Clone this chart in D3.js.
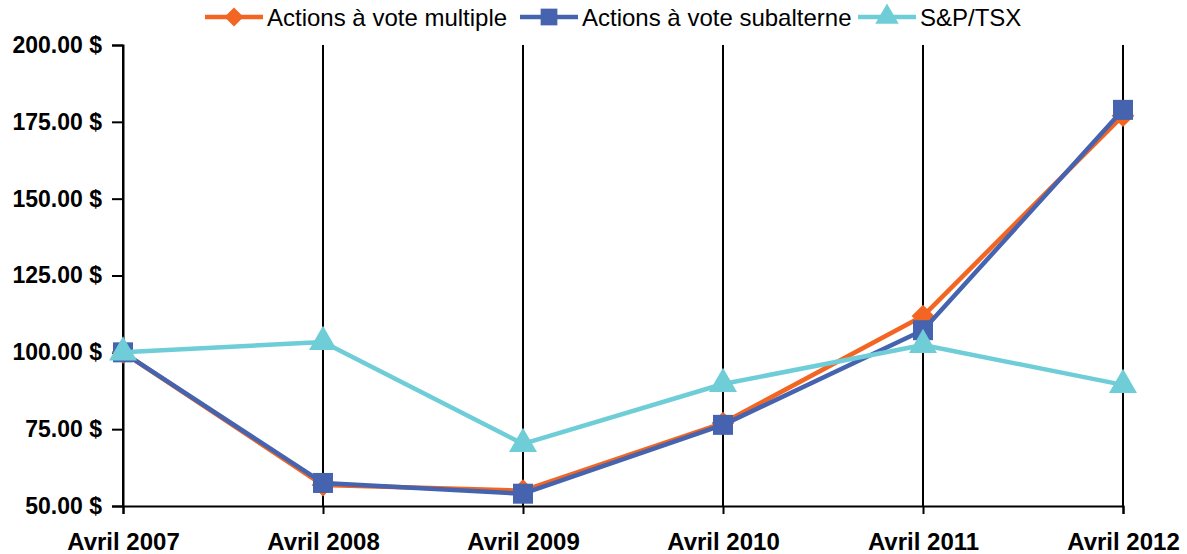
<!DOCTYPE html>
<html>
<head>
<meta charset="utf-8">
<script src="https://cdn.jsdelivr.net/npm/d3@7"></script>
<style>
  body { margin: 0; background: #fff; }
  svg text { font-family: "Liberation Sans", Arial, sans-serif; }
</style>
</head>
<body>
<div id="chart"></div>
<script>
var categories = ["Avril 2007", "Avril 2008", "Avril 2009", "Avril 2010", "Avril 2011", "Avril 2012"];
var multiple = [100, 56.8, 55.0, 77.0, 111.8, 177.0];
var subalterne = [100, 57.5, 54.0, 76.4, 107.2, 178.9];
var sptsx = [100, 103.4, 70.2, 89.7, 102.4, 89.4];
var yTicks = [50, 75, 100, 125, 150, 175, 200];
var seriesNames = ["Actions à vote multiple", "Actions à vote subalterne", "S&P/TSX"];
var seriesColors = ["#f26522", "#4563ae", "#6fcdd8"];
var seriesShapes = [d3.symbolDiamond2, d3.symbolSquare, d3.symbolTriangle];

var width = 1187, height = 554;
var margin = {top: 45, right: 64, bottom: 48, left: 123};

var svg = d3.select("#chart").append("svg")
    .attr("width", width).attr("height", height);
var g = svg.append("g")
    .attr("transform", "translate(" + margin.left + "," + margin.top + ")");
var w = width - margin.left - margin.right,
    h = height - margin.top - margin.bottom;

var x = d3.scalePoint().domain(categories).range([0, w]);
var y = d3.scaleLinear().domain([50, 200]).range([h, 0]);

// vertical grid lines
g.selectAll(".vgrid").data(categories).enter().append("line")
    .attr("x1", function (d) { return x(d); })
    .attr("x2", function (d) { return x(d); })
    .attr("y1", 0).attr("y2", h)
    .style("stroke", "#000").style("stroke-width", 2);

// y axis
var yAxis = g.append("g")
    .call(d3.axisLeft(y).tickValues(yTicks).tickSize(11).tickPadding(10)
        .tickFormat(function (d) { return d3.format(".2f")(d) + " $"; }));
yAxis.select(".domain").style("stroke", "#000").style("stroke-width", 2);
yAxis.selectAll(".tick line").style("stroke", "#000").style("stroke-width", 2);
yAxis.selectAll("text").style("font-size", "23px").style("font-weight", "bold")
    .style("font-family", "'Liberation Sans', Arial, sans-serif").style("fill", "#000");

// x axis
var xAxis = g.append("g").attr("transform", "translate(0," + h + ")")
    .call(d3.axisBottom(x).tickSize(8).tickPadding(19));
xAxis.select(".domain").style("stroke", "#000").style("stroke-width", 2);
xAxis.selectAll(".tick line").style("stroke", "#000").style("stroke-width", 2);
xAxis.selectAll("text").style("font-size", "24px").style("font-weight", "bold")
    .style("font-family", "'Liberation Sans', Arial, sans-serif").style("fill", "#000");

var allSeries = [multiple, subalterne, sptsx];
var symSizes = [330, 400, 340];
var line = d3.line()
    .x(function (d, i) { return x(categories[i]); })
    .y(function (d) { return y(d); });

allSeries.forEach(function (vals, s) {
    g.append("path").datum(vals)
        .attr("d", line)
        .style("fill", "none")
        .style("stroke", seriesColors[s])
        .style("stroke-width", 4.5)
        .style("stroke-linejoin", "round");
    g.selectAll(".pt" + s).data(vals).enter().append("path")
        .attr("d", d3.symbol().type(seriesShapes[s]).size(symSizes[s]))
        .attr("transform", function (d, i) {
            return "translate(" + x(categories[i]) + "," + y(d) + ")";
        })
        .style("fill", seriesColors[s]);
});

// legend
var legendX = [205, 520, 858];
var legend = svg.append("g");
seriesNames.forEach(function (name, s) {
    var lg = legend.append("g").attr("transform", "translate(" + legendX[s] + ",17)");
    lg.append("line").attr("x1", 0).attr("x2", 58).attr("y1", 0).attr("y2", 0)
        .style("stroke", seriesColors[s]).style("stroke-width", 4.5);
    lg.append("path")
        .attr("d", d3.symbol().type(seriesShapes[s]).size(symSizes[s] * 0.7))
        .attr("transform", "translate(29,0)")
        .style("fill", seriesColors[s]);
    lg.append("text").attr("x", 62).attr("y", 9)
        .style("font-size", "24px").style("fill", "#000")
        .text(name);
});
</script>
</body>
</html>
